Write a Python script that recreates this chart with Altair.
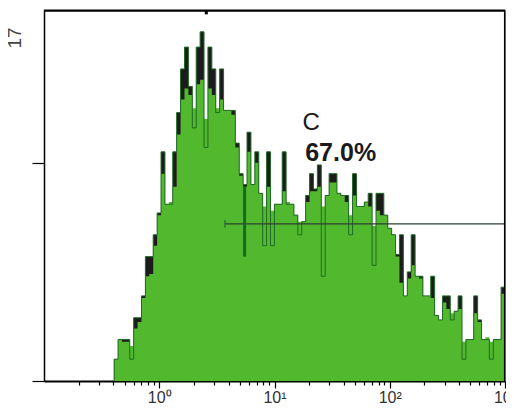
import altair as alt
import pandas as pd

# Histogram: 100 bins from 10^-0.3915 up to 10^3
LOG_START = -0.3915
LOG_STEP = 0.033915

# black spiky outline (counts per bin)
OUTLINE = [1.0, 1.9, 1.9, 1.9, 1.0, 2.9, 2.9, 3.9, 5.7, 5.7,
           6.7, 7.7, 10.5, 8.1, 8.1, 10.5, 12.3, 14.3, 15.3, 13.5,
           11.6, 15.3, 16.0, 10.7, 15.3, 14.3, 12.3, 14.3, 12.4, 12.4,
           12.4, 10.9, 9.5, 9.0, 11.4, 9.0, 10.5, 8.6, 6.2, 10.5,
           6.2, 8.1, 8.1, 10.5, 8.1, 8.1, 7.6, 6.7, 7.3, 8.5,
           9.5, 8.8, 9.9, 4.8, 8.5, 9.5, 9.5, 8.6, 8.5, 8.5,
           6.7, 9.5, 8.0, 8.0, 8.2, 8.6, 5.3, 8.6, 8.6, 7.6,
           7.0, 6.7, 5.8, 6.7, 3.9, 5.0, 6.7, 4.8, 4.8, 3.9,
           3.9, 4.8, 3.0, 2.8, 3.9, 3.9, 2.8, 3.2, 3.9, 1.0,
           1.9, 1.9, 3.9, 2.8, 1.9, 1.9, 1.0, 1.9, 1.9, 4.3]

# green filled envelope (counts per bin)
FILL = [1.0, 1.9, 1.8, 1.8, 1.6, 2.4, 2.7, 3.8, 4.8, 4.9,
        6.2, 7.6, 9.5, 8.1, 8.2, 8.9, 11.3, 12.9, 13.4, 13.1,
        12.5, 13.6, 13.8, 12.0, 13.4, 13.1, 12.5, 12.9, 12.4, 12.4,
        12.2, 10.7, 9.4, 8.9, 10.5, 9.0, 10.0, 8.6, 8.0, 8.9,
        7.8, 8.1, 8.1, 8.7, 8.2, 8.1, 7.6, 7.3, 7.3, 8.2,
        8.7, 8.7, 8.9, 8.0, 8.5, 9.1, 9.1, 8.6, 8.5, 8.2,
        7.6, 8.5, 8.0, 8.0, 8.2, 8.0, 7.1, 7.8, 7.6, 7.6,
        7.0, 6.7, 5.7, 4.5, 3.9, 4.7, 5.3, 4.8, 4.7, 3.9,
        3.9, 3.8, 3.0, 2.8, 3.6, 3.3, 3.1, 3.2, 3.3, 1.8,
        1.9, 1.9, 3.1, 2.7, 1.9, 2.0, 1.8, 1.9, 1.9, 4.0]

# gate "C"
GATE_START = 3.72
GATE_END = 1000
GATE_LEVEL = 7.2
GATE_MARK_X = 5.5
GATE_MARK_Y = [5.7, 8.9]
GATE_NAME = "C"
GATE_PCT = "67.0%"
NAME_POS = (20.8, 11.8)
PCT_POS = (37.5, 10.45)
TOP_MARK_X = 2.56

Y_MAX = 17
X_DOMAIN = [0.1, 1000]
MAJOR = [1, 10, 100, 1000]
MINOR = [round(m * 10 ** d, 6) for d in [-1, 0, 1, 2] for m in range(2, 10)]
TICKS = sorted(MINOR + MAJOR)

edges = [10 ** (LOG_START + i * LOG_STEP) for i in range(len(OUTLINE) + 1)]
hist = pd.DataFrame({
    "x": [edges[0]] + edges,
    "outline": [0] + OUTLINE + [OUTLINE[-1]],
    "fill": [0] + FILL + [FILL[-1]],
})

x_axis = alt.Axis(
    values=TICKS,
    labelExpr="datum.value == 1 ? '10⁰' : datum.value == 10 ? '10¹' : datum.value == 100 ? '10²' : datum.value == 1000 ? '10³' : ''",
    tickSize={"condition": {"test": "indexof([1,10,100,1000], datum.value) >= 0", "value": 7}, "value": 4},
    tickColor="black", tickWidth=1.2,
    domainColor="black", domainWidth=2,
    labelFont="Liberation Sans", labelFontSize=16, labelColor="#333333",
    labelPadding=1, labelFlush=False, labelOverlap=False, grid=False, title=None,
)
y_axis = alt.Axis(values=[0, 10], labels=False, tickSize=12, tickColor="black",
                  tickWidth=1.2, domainColor="black", domainWidth=1.5,
                  grid=False, title=None)

x_scale = alt.Scale(type="log", domain=X_DOMAIN)
y_scale = alt.Scale(domain=[0, Y_MAX], nice=False)
X = alt.X("x:Q", scale=x_scale, axis=x_axis, title=None)
Y = alt.Y("y:Q", scale=y_scale, axis=y_axis, title=None)

outline_area = alt.Chart(hist).mark_area(color="#1c1c1c", interpolate="step-after").encode(
    x=X, y=alt.Y("outline:Q", scale=y_scale, axis=y_axis, title=None))
fill = alt.Chart(hist).mark_area(color="#52b82e", interpolate="step-after").encode(
    x=X, y=alt.Y("fill:Q", scale=y_scale, axis=y_axis, title=None))
outline_line = alt.Chart(hist).mark_line(color="#1f6a25", strokeWidth=1, interpolate="step-after").encode(
    x=X, y=alt.Y("outline:Q", scale=y_scale, axis=y_axis, title=None))

gate_df = pd.DataFrame({"x": [GATE_START], "x2": [GATE_END], "y": [GATE_LEVEL]})
gate = alt.Chart(gate_df).mark_rule(color="#2a3f33", strokeWidth=1.2).encode(
    x=X, x2="x2:Q", y=Y)
cap_df = pd.DataFrame({"x": [GATE_START], "y": [GATE_LEVEL - 0.18], "y2": [GATE_LEVEL + 0.18]})
cap = alt.Chart(cap_df).mark_rule(color="#1f6b3a", strokeWidth=1.2).encode(x=X, y=Y, y2="y2:Q")
mark_df = pd.DataFrame({"x": [GATE_MARK_X], "y": [GATE_MARK_Y[0]], "y2": [GATE_MARK_Y[1]]})
marker = alt.Chart(mark_df).mark_rule(color="#17692a", strokeWidth=3).encode(x=X, y=Y, y2="y2:Q")

top_df = pd.DataFrame({"x": [TOP_MARK_X], "y": [Y_MAX], "y2": [Y_MAX - 0.2]})
top_mark = alt.Chart(top_df).mark_rule(color="black", strokeWidth=3).encode(x=X, y=Y, y2="y2:Q")

# plot frame: top and right edges
frame_top = alt.Chart(pd.DataFrame({"x": [X_DOMAIN[0]], "x2": [X_DOMAIN[1]], "y": [Y_MAX - 0.03]})).mark_rule(
    color="black", strokeWidth=2.2).encode(x=X, x2="x2:Q", y=Y)
frame_right = alt.Chart(pd.DataFrame({"x": [995], "y": [0], "y2": [Y_MAX]})).mark_rule(
    color="black", strokeWidth=1.6).encode(x=X, y=Y, y2="y2:Q")

txt_df = pd.DataFrame({"x": [NAME_POS[0]], "y": [NAME_POS[1]], "t": [GATE_NAME]})
name_txt = alt.Chart(txt_df).mark_text(font="Liberation Sans", fontSize=24, color="#1a1a1a").encode(
    x=X, y=Y, text="t:N")
pct_df = pd.DataFrame({"x": [PCT_POS[0]], "y": [PCT_POS[1]], "t": [GATE_PCT]})
pct_txt = alt.Chart(pct_df).mark_text(font="Liberation Sans", fontSize=25, fontWeight="bold",
                                      color="#1a1a1a").encode(x=X, y=Y, text="t:N")

ymax_df = pd.DataFrame({"t": [str(Y_MAX)]})
ymax_txt = alt.Chart(ymax_df).mark_text(font="Liberation Sans", fontSize=19, angle=270,
                                        color="#444444").encode(
    x=alt.value(-29), y=alt.value(28), text="t:N")

chart = alt.layer(outline_area, fill, outline_line, gate, cap, marker, top_mark,
                  name_txt, pct_txt, ymax_txt, frame_top, frame_right).properties(
    width=461, height=371,
    autosize=alt.AutoSizeParams(type="none"),
    padding={"left": 36, "top": 2, "right": 1, "bottom": 24},
)

chart.save("out.html", embed_options={"renderer": "svg", "actions": False})
